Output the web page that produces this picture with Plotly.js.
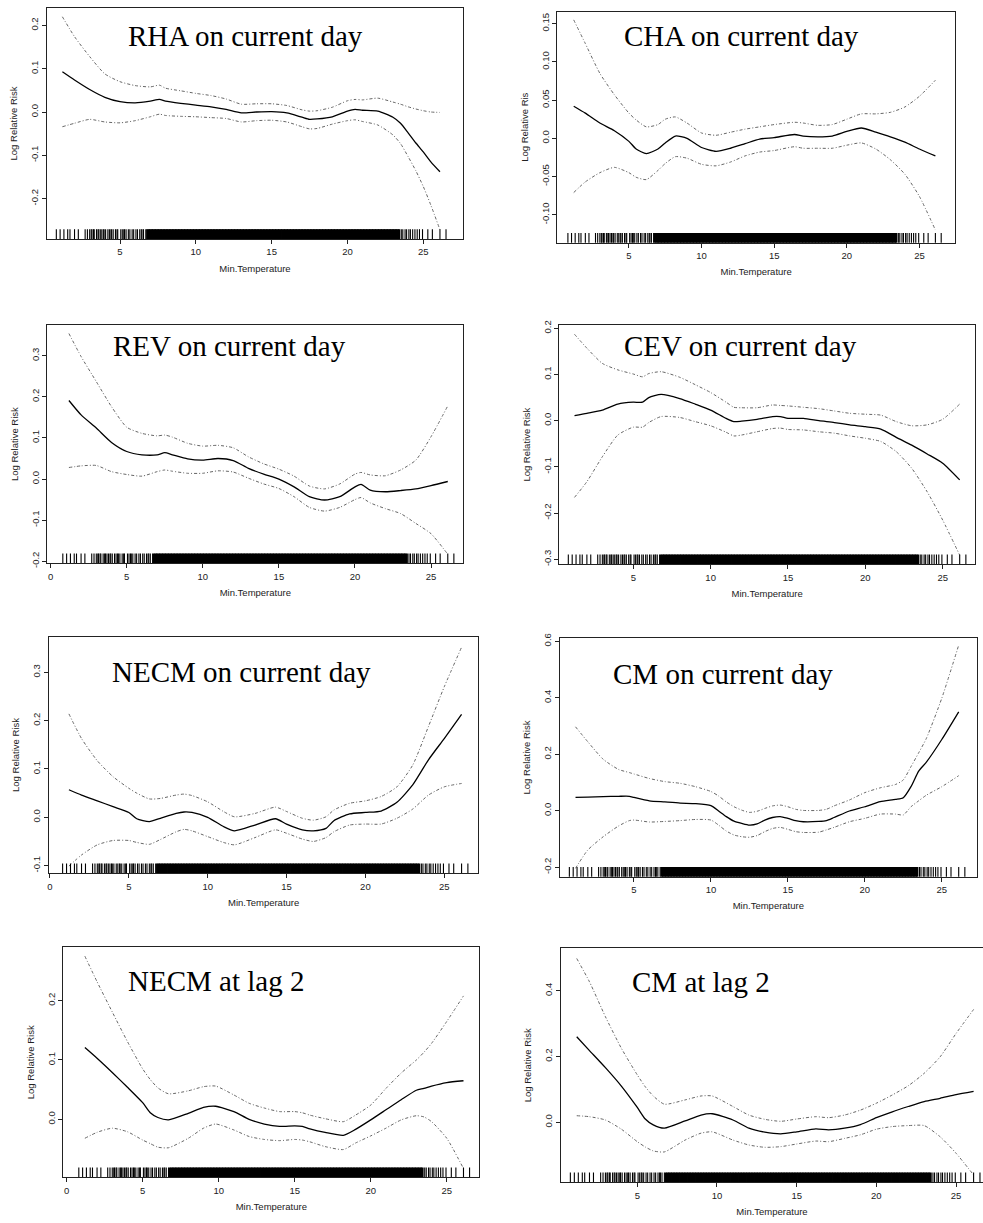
<!DOCTYPE html>
<html><head><meta charset="utf-8">
<script src="https://cdn.plot.ly/plotly-3.0.1.min.js"></script>
<style>html,body{margin:0;padding:0;background:#fff;overflow:hidden}#chart{width:983px;height:1223px}</style>
</head><body><div id="chart"></div>
<script>
// ---------- data ----------
const panelTitles = ['RHA on current day','CHA on current day','REV on current day','CEV on current day',
  'NECM on current day','CM on current day','NECM at lag 2','CM at lag 2'];
const yTitles = ['Log Relative Risk','Log Relative Ris','Log Relative Risk','Log Relative Risk',
  'Log Relative Risk','Log Relative Risk','Log Relative Risk','Log Relative Risk'];
const xTitle = 'Min.Temperature';

const xTicks5 = [5,10,15,20,25];
const xTicks0 = [0,5,10,15,20,25];

const yTicks1 = [-0.2,-0.1,0,0.1,0.2];           const yLabels1 = ['-0.2','-0.1','0.0','0.1','0.2'];
const yTicks2 = [-0.10,-0.05,0,0.05,0.10,0.15];  const yLabels2 = ['-0.10','-0.05','0.0','0.05','0.10','0.15'];
const yTicks3 = [-0.2,-0.1,0,0.1,0.2,0.3];       const yLabels3 = ['-0.2','-0.1','0.0','0.1','0.2','0.3'];
const yTicks4 = [-0.3,-0.2,-0.1,0,0.1,0.2];      const yLabels4 = ['-0.3','-0.2','-0.1','0.0','0.1','0.2'];
const yTicks5 = [-0.1,0,0.1,0.2,0.3];            const yLabels5 = ['-0.1','0.0','0.1','0.2','0.3'];
const yTicks6 = [-0.2,0,0.2,0.4,0.6];            const yLabels6 = ['-0.2','0.0','0.2','0.4','0.6'];
const yTicks7 = [0,0.1,0.2];                     const yLabels7 = ['0.0','0.1','0.2'];
const yTicks8 = [0,0.2,0.4];                     const yLabels8 = ['0.0','0.2','0.4'];

// RHA
const temp1 = [1.2,2,3,4,5,6,7,7.6,8,9,10,11,12,13,14,15,16,17,17.5,18,19,20,20.5,21,22,23,23.5,24,24.5,25,25.5,26.1];
const fit1  = [0.093,0.074,0.052,0.034,0.024,0.021,0.025,0.029,0.025,0.020,0.016,0.012,0.006,-0.002,0.0,0.001,-0.002,-0.012,-0.017,-0.016,-0.011,0.002,0.006,0.004,0.002,-0.012,-0.026,-0.048,-0.071,-0.092,-0.115,-0.138];
const upper1= [0.220,0.174,0.128,0.088,0.070,0.061,0.058,0.062,0.055,0.049,0.043,0.038,0.030,0.018,0.019,0.019,0.015,0.005,0.002,0.003,0.011,0.026,0.029,0.028,0.032,0.023,0.018,0.012,0.007,0.003,0.000,-0.001];
const lower1= [-0.034,-0.026,-0.017,-0.023,-0.025,-0.020,-0.011,-0.005,-0.008,-0.010,-0.011,-0.013,-0.015,-0.023,-0.020,-0.019,-0.023,-0.034,-0.039,-0.038,-0.028,-0.020,-0.018,-0.022,-0.030,-0.053,-0.073,-0.103,-0.135,-0.172,-0.215,-0.272];
// CHA
const temp2 = [1.2,2,3,4,5,5.5,6.2,7,7.5,8.2,9,10,11,12,13,14,15,16.4,17,18,19,20,21,22,23,24,25,26.1];
const fit2  = [0.042,0.033,0.020,0.010,-0.004,-0.014,-0.020,-0.014,-0.006,0.003,0.000,-0.012,-0.017,-0.013,-0.007,-0.001,0.001,0.005,0.003,0.002,0.003,0.009,0.0135,0.008,0.002,-0.005,-0.014,-0.023];
const upper2= [0.155,0.124,0.085,0.057,0.033,0.024,0.015,0.018,0.025,0.028,0.020,0.007,0.004,0.008,0.012,0.015,0.018,0.021,0.020,0.017,0.018,0.025,0.032,0.032,0.034,0.041,0.055,0.076];
const lower2= [-0.071,-0.057,-0.045,-0.038,-0.045,-0.051,-0.054,-0.042,-0.033,-0.024,-0.026,-0.034,-0.036,-0.031,-0.023,-0.018,-0.016,-0.011,-0.013,-0.013,-0.013,-0.009,-0.006,-0.014,-0.028,-0.047,-0.076,-0.120];
// REV
const temp3 = [1.2,2,3,4,5,6,7,7.5,8,9,10,11,12,13,14,15,16,17,18,19,20,20.4,21,22,23,24,25,26.1];
const fit3  = [0.191,0.156,0.124,0.089,0.067,0.059,0.059,0.064,0.059,0.049,0.046,0.050,0.045,0.026,0.012,0.000,-0.019,-0.043,-0.051,-0.043,-0.019,-0.013,-0.027,-0.031,-0.028,-0.024,-0.016,-0.006];
const upper3= [0.354,0.298,0.237,0.176,0.126,0.111,0.105,0.107,0.102,0.087,0.080,0.082,0.076,0.054,0.037,0.024,0.007,-0.017,-0.024,-0.012,0.012,0.016,0.010,0.008,0.022,0.046,0.103,0.178];
const lower3= [0.028,0.032,0.033,0.018,0.011,0.007,0.018,0.022,0.019,0.014,0.014,0.020,0.017,0.002,-0.012,-0.023,-0.043,-0.069,-0.078,-0.069,-0.050,-0.045,-0.058,-0.072,-0.084,-0.108,-0.133,-0.183];
// CEV
const temp4 = [1.2,2,3,4,5,5.6,6,6.8,8,9,10,11,11.5,12,13,14,14.5,15,16,17,18,19,20,21,22,23,24,25,26.1];
const fit4  = [0.011,0.016,0.023,0.036,0.040,0.040,0.050,0.057,0.048,0.036,0.023,0.005,-0.002,-0.001,0.003,0.009,0.009,0.005,0.005,0.000,-0.004,-0.009,-0.013,-0.018,-0.036,-0.053,-0.072,-0.092,-0.128];
const upper4= [0.187,0.157,0.124,0.110,0.101,0.095,0.102,0.106,0.094,0.078,0.061,0.040,0.029,0.028,0.028,0.034,0.033,0.032,0.029,0.026,0.021,0.016,0.014,0.012,-0.002,-0.011,-0.009,0.003,0.036];
const lower4= [-0.166,-0.132,-0.078,-0.031,-0.014,-0.014,-0.004,0.009,0.007,-0.002,-0.011,-0.025,-0.033,-0.031,-0.024,-0.017,-0.016,-0.019,-0.020,-0.024,-0.027,-0.033,-0.038,-0.045,-0.067,-0.103,-0.154,-0.215,-0.291];
// NECM current day
const temp5 = [1.2,2,3,4,5,5.5,6.3,7,8,8.5,9,10,11,11.7,13,14.3,15,16,16.7,17.5,18,19,20,21,22,23,24,25,26.1];
const fit5  = [0.057,0.046,0.034,0.022,0.010,-0.003,-0.009,-0.002,0.008,0.011,0.010,0.000,-0.019,-0.028,-0.016,-0.003,-0.014,-0.026,-0.028,-0.023,-0.007,0.007,0.010,0.013,0.031,0.067,0.119,0.163,0.213];
const upper5= [0.214,0.163,0.117,0.084,0.060,0.050,0.038,0.039,0.046,0.048,0.045,0.032,0.012,0.001,0.008,0.021,0.012,-0.002,-0.006,0.001,0.015,0.029,0.034,0.043,0.063,0.108,0.188,0.270,0.352];
const lower5= [-0.101,-0.078,-0.057,-0.048,-0.048,-0.052,-0.056,-0.046,-0.030,-0.025,-0.028,-0.040,-0.052,-0.057,-0.042,-0.026,-0.033,-0.045,-0.050,-0.042,-0.030,-0.016,-0.014,-0.014,-0.002,0.017,0.046,0.063,0.070];
// CM current day
const temp6 = [1.2,2,3,4,4.7,5,6,7,8,9,10,10.5,11,11.5,12,12.5,13,13.5,14,14.5,15,15.5,16,17,17.5,18,19,20,21,22,22.5,23,23.5,24,25,26.1];
const fit6  = [0.047,0.048,0.050,0.051,0.051,0.047,0.035,0.031,0.027,0.025,0.018,-0.001,-0.021,-0.037,-0.045,-0.051,-0.047,-0.033,-0.024,-0.021,-0.027,-0.035,-0.039,-0.038,-0.035,-0.024,-0.001,0.014,0.032,0.040,0.046,0.085,0.140,0.172,0.252,0.350];
const upper6= [0.297,0.244,0.182,0.146,0.135,0.130,0.114,0.103,0.097,0.085,0.068,0.052,0.031,0.014,0.002,-0.006,-0.002,0.008,0.017,0.020,0.014,0.005,0.001,0.001,0.005,0.017,0.038,0.064,0.081,0.093,0.109,0.156,0.205,0.256,0.398,0.586];
const lower6= [-0.204,-0.139,-0.092,-0.054,-0.035,-0.033,-0.040,-0.038,-0.035,-0.031,-0.033,-0.051,-0.072,-0.086,-0.092,-0.094,-0.088,-0.074,-0.063,-0.059,-0.066,-0.074,-0.077,-0.076,-0.068,-0.059,-0.039,-0.027,-0.012,-0.012,-0.015,0.014,0.035,0.055,0.085,0.124];
// NECM lag 2
const temp7 = [1.2,2,3,4,5,5.5,6,6.7,8,9,9.8,11,12,13,14,15,15.5,16,17,18.2,19,20,21,22,23,23.5,24,25,26.1];
const fit7  = [0.121,0.103,0.079,0.054,0.028,0.011,0.003,-0.001,0.010,0.020,0.022,0.013,0.000,-0.008,-0.012,-0.011,-0.012,-0.016,-0.022,-0.027,-0.017,-0.001,0.016,0.033,0.049,0.052,0.056,0.062,0.065];
const upper7= [0.275,0.232,0.181,0.131,0.085,0.067,0.053,0.043,0.048,0.055,0.056,0.041,0.027,0.019,0.013,0.013,0.011,0.007,0.001,-0.004,0.007,0.024,0.052,0.078,0.100,0.113,0.128,0.165,0.208];
const lower7= [-0.032,-0.022,-0.015,-0.021,-0.035,-0.041,-0.047,-0.048,-0.032,-0.015,-0.008,-0.018,-0.029,-0.034,-0.036,-0.034,-0.035,-0.038,-0.046,-0.051,-0.040,-0.028,-0.015,-0.001,0.006,0.004,-0.004,-0.032,-0.083];
// CM lag 2
const temp8 = [1.2,2,3,4,5,5.5,6,6.7,8,9,9.7,11,12,13,14,15,16.2,17,18,19,20,21,22,23,24,25,26.1];
const fit8  = [0.260,0.218,0.166,0.110,0.045,0.010,-0.008,-0.018,0.004,0.022,0.026,0.007,-0.018,-0.030,-0.035,-0.029,-0.020,-0.023,-0.018,-0.007,0.014,0.032,0.048,0.063,0.073,0.084,0.094];
const upper8= [0.498,0.427,0.321,0.225,0.144,0.108,0.080,0.055,0.068,0.080,0.080,0.048,0.022,0.009,0.003,0.010,0.017,0.014,0.022,0.037,0.058,0.083,0.111,0.149,0.199,0.270,0.343];
const lower8= [0.020,0.017,0.007,-0.021,-0.059,-0.075,-0.087,-0.090,-0.054,-0.033,-0.029,-0.054,-0.069,-0.076,-0.074,-0.066,-0.057,-0.059,-0.049,-0.038,-0.021,-0.013,-0.010,-0.010,-0.044,-0.094,-0.160];

// observed minimum temperatures (rug): isolated days and the densely observed range
const rugSparse = [0.8,1.05,1.3,1.55,1.7,2.0,2.25,2.7,2.85,3.0,3.1,3.15,3.25,3.3,3.45,3.55,3.6,3.7,3.8,3.9,3.95,4.05,4.2,4.3,4.4,4.45,4.55,4.7,4.8,4.85,
 5.05,5.15,5.25,5.3,5.4,5.55,5.65,5.8,5.9,6.05,6.15,6.3,6.4,6.45,6.55,6.7,
 23.55,23.65,23.8,23.9,24.05,24.15,24.3,24.45,24.6,24.75,24.95,25.3,25.6,26.1,26.5];
const rugDense = [
 6.8,6.9,7.0,7.1,7.2,7.3,7.4,7.5,7.6,7.7,7.8,7.9,8.0,8.1,8.2,8.3,8.4,8.5,8.6,8.7,8.8,8.9,
 9.0,9.1,9.2,9.3,9.4,9.5,9.6,9.7,9.8,9.9,10.0,10.1,10.2,10.3,10.4,10.5,10.6,10.7,10.8,10.9,
 11.0,11.1,11.2,11.3,11.4,11.5,11.6,11.7,11.8,11.9,12.0,12.1,12.2,12.3,12.4,12.5,12.6,12.7,12.8,12.9,
 13.0,13.1,13.2,13.3,13.4,13.5,13.6,13.7,13.8,13.9,14.0,14.1,14.2,14.3,14.4,14.5,14.6,14.7,14.8,14.9,
 15.0,15.1,15.2,15.3,15.4,15.5,15.6,15.7,15.8,15.9,16.0,16.1,16.2,16.3,16.4,16.5,16.6,16.7,16.8,16.9,
 17.0,17.1,17.2,17.3,17.4,17.5,17.6,17.7,17.8,17.9,18.0,18.1,18.2,18.3,18.4,18.5,18.6,18.7,18.8,18.9,
 19.0,19.1,19.2,19.3,19.4,19.5,19.6,19.7,19.8,19.9,20.0,20.1,20.2,20.3,20.4,20.5,20.6,20.7,20.8,20.9,
 21.0,21.1,21.2,21.3,21.4,21.5,21.6,21.7,21.8,21.9,22.0,22.1,22.2,22.3,22.4,22.5,22.6,22.7,22.8,22.9,
 23.0,23.1,23.2,23.3,23.4];

// ---------- layout geometry (pixels) ----------
const W = 983, H = 1223;
const panels = [
  {x:temp1, fit:fit1, up:upper1, lo:lower1, box:[47,463,8,239],        xr:[0.185,27.62], yr:[-0.2933,0.2402], xt:xTicks5, yt:yTicks1, yl:yLabels1, tpos:[246,37]},
  {x:temp2, fit:fit2, up:upper2, lo:lower2, box:[557.3,955,11.7,242.7],xr:[0.07,27.45],  yr:[-0.1366,0.1657], xt:xTicks5, yt:yTicks2, yl:yLabels2, tpos:[741.5,37]},
  {x:temp3, fit:fit3, up:upper3, lo:lower3, box:[47.3,463.3,325,563.3],xr:[-0.22,27.12], yr:[-0.205,0.3747],  xt:xTicks0, yt:yTicks3, yl:yLabels3, tpos:[229,346.7]},
  {x:temp4, fit:fit4, up:upper4, lo:lower4, box:[559.3,975,325,564.3], xr:[0.217,27.09], yr:[-0.3108,0.2071], xt:xTicks5, yt:yTicks4, yl:yLabels4, tpos:[740.8,346.7]},
  {x:temp5, fit:fit5, up:upper5, lo:lower5, box:[49,478.3,636.7,873.3],xr:[-0.063,27.16],yr:[-0.1159,0.3737], xt:xTicks0, yt:yTicks5, yl:yLabels5, tpos:[241.3,673.3]},
  {x:temp6, fit:fit6, up:upper6, lo:lower6, box:[560,976.7,638.3,876.7],xr:[0.192,27.27],yr:[-0.2336,0.6103], xt:xTicks5, yt:yTicks6, yl:yLabels6, tpos:[723,675]},
  {x:temp7, fit:fit7, up:upper7, lo:lower7, box:[63.3,479.3,947.3,1177.3],xr:[-0.22,27.14],yr:[-0.0978,0.290],xt:xTicks0, yt:yTicks7, yl:yLabels7, tpos:[216.3,981.7]},
  {x:temp8, fit:fit8, up:upper8, lo:lower8, box:[561,983,948.3,1182.3],xr:[0.213,26.69], yr:[-0.1824,0.5289], xt:xTicks5, yt:yTicks8, yl:yLabels8, tpos:[700.8,983.3]}
];

const tickFont = {family:'Liberation Sans, Arial, sans-serif', size:9.5, color:'#222'};
const data = [];
const layout = {width:W, height:H, margin:{l:0,r:0,t:0,b:0}, showlegend:false,
  paper_bgcolor:'#fff', plot_bgcolor:'#fff', annotations:[]};

panels.forEach((p,i) => {
  const s = i === 0 ? '' : String(i+1);
  const [L,R,T,B] = p.box;
  layout['xaxis'+s] = {domain:[L/W, R/W], range:p.xr, anchor:'y'+s,
    tickmode:'array', tickvals:p.xt, ticktext:p.xt.map(String),
    ticks:'outside', ticklen:4, tickwidth:1, tickcolor:'#222',
    showline:true, linecolor:'#222', linewidth:1, mirror:true,
    showgrid:false, zeroline:false, tickfont:tickFont, fixedrange:true,
    title:{text:xTitle, font:tickFont, standoff:8}};
  layout['yaxis'+s] = {domain:[1-B/H, 1-T/H], range:p.yr, anchor:'x'+s,
    tickmode:'array', tickvals:p.yt, ticktext:p.yl, tickangle:-90,
    ticks:'outside', ticklen:4, tickwidth:1, tickcolor:'#222',
    showline:true, linecolor:'#222', linewidth:1, mirror: i !== 7,
    showgrid:false, zeroline:false, tickfont:tickFont, fixedrange:true,
    title:{text:yTitles[i], font:tickFont, standoff:9}};
  const xa = 'x'+s, ya = 'y'+s;
  const ci = {color:'#666', width:1, dash:'3px,2px,1px,2px', shape:'spline', smoothing:0.6};
  data.push({x:p.x, y:p.up, xaxis:xa, yaxis:ya, mode:'lines', line:ci, hoverinfo:'skip'});
  data.push({x:p.x, y:p.lo, xaxis:xa, yaxis:ya, mode:'lines', line:ci, hoverinfo:'skip'});
  data.push({x:p.x, y:p.fit, xaxis:xa, yaxis:ya, mode:'lines',
    line:{color:'#000', width:1.3, shape:'spline', smoothing:0.6}, hoverinfo:'skip'});
  data.push({x:rugSparse, y:rugSparse.map(() => p.yr[0]), xaxis:xa, yaxis:ya, mode:'markers',
    cliponaxis:true, hoverinfo:'skip',
    marker:{symbol:'line-ns', size:14, color:'#000', line:{width:1.1, color:'#000'}}});
  data.push({x:rugDense, y:rugDense.map(() => p.yr[0]), xaxis:xa, yaxis:ya, mode:'markers',
    cliponaxis:true, hoverinfo:'skip',
    marker:{symbol:'line-ns', size:14, color:'#000', line:{width:2.4, color:'#000'}}});
  layout.annotations.push({text:panelTitles[i], xref:'paper', yref:'paper',
    x:p.tpos[0]/W, y:1-(p.tpos[1]-1)/H, xanchor:'center', yanchor:'middle', showarrow:false,
    font:{family:'Liberation Serif, Times New Roman, serif', size:29, color:'#000'}});
});

Plotly.newPlot('chart', data, layout, {staticPlot:true, displayModeBar:false});
</script>
</body></html>
